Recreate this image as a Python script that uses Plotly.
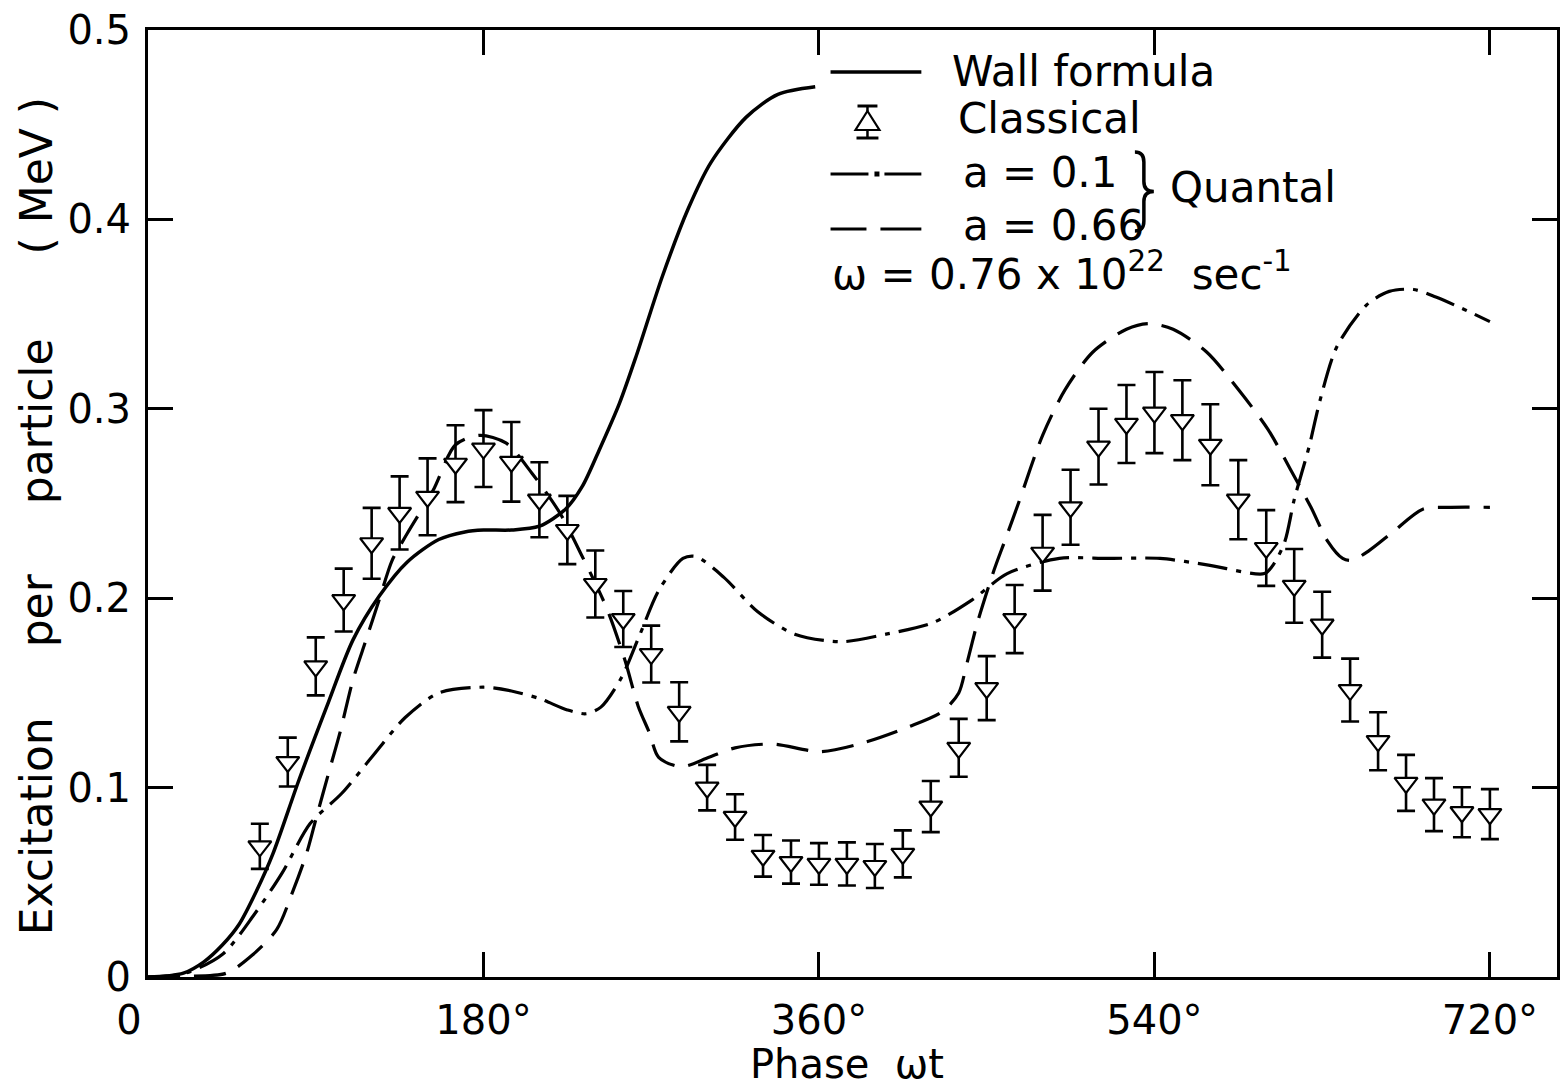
import plotly.graph_objects as go

# ---------------- data ----------------
wall_x = [0, 10, 19, 30, 40, 49, 58, 67, 81, 96, 110, 124, 139, 156, 170, 180, 195,
          210, 224, 233, 242, 253, 262, 276, 290, 302, 321, 338, 358]
wall_y = [0, 0.0005, 0.002, 0.008, 0.017, 0.028, 0.045, 0.065, 0.104, 0.143, 0.178,
          0.201, 0.219, 0.231, 0.235, 0.236, 0.236, 0.238, 0.247, 0.259, 0.278, 0.303,
          0.328, 0.370, 0.406, 0.430, 0.454, 0.466, 0.470]

q01_x = [0, 20, 40, 57, 72, 87, 104, 120, 138, 156, 180, 195, 210, 225, 235, 243, 254,
         264, 274, 287, 294, 309, 327, 347, 372, 396, 421, 442, 461, 489, 515, 543,
         569, 599, 604, 610, 615, 623, 629, 638, 654, 666, 679, 691, 705, 720]
q01_y = [0, 0.002, 0.012, 0.033, 0.055, 0.081, 0.097, 0.116, 0.137, 0.150, 0.153,
         0.151, 0.147, 0.141, 0.139, 0.1425, 0.158, 0.181, 0.204, 0.221, 0.222, 0.211,
         0.193, 0.181, 0.177, 0.181, 0.187, 0.199, 0.213, 0.221, 0.221, 0.221, 0.2175,
         0.213, 0.218, 0.230, 0.252, 0.280, 0.305, 0.333, 0.355, 0.362, 0.363, 0.359,
         0.353, 0.346]

q066_x = [0, 20, 42, 56, 69, 78, 85, 90, 97, 103, 110, 117, 124, 131, 139, 153, 165,
          178, 192, 206, 221, 233, 246, 256, 263, 269, 274, 286, 301, 315, 335, 361,
          385, 408, 426, 435, 439, 445, 454, 460, 467, 480, 492, 507, 525, 537, 550,
          568, 586, 601, 613, 624, 633, 641, 646, 655, 668, 684, 699, 720]
q066_y = [0, 0.0003, 0.002, 0.0116, 0.025, 0.046, 0.065, 0.083, 0.108, 0.129, 0.157,
          0.178, 0.199, 0.220, 0.234, 0.257, 0.281, 0.286, 0.282, 0.266, 0.245, 0.222,
          0.195, 0.167, 0.143, 0.129, 0.116, 0.111, 0.116, 0.121, 0.123, 0.119, 0.124,
          0.132, 0.140, 0.150, 0.164, 0.187, 0.215, 0.231, 0.250, 0.286, 0.310, 0.330,
          0.342, 0.345, 0.342, 0.330, 0.309, 0.289, 0.268, 0.248, 0.230, 0.221, 0.220,
          0.225, 0.235, 0.247, 0.248, 0.248]

cls_x = [60, 75, 90, 105, 120, 135, 150, 165, 180, 195, 210, 225, 240, 255, 270, 285,
         300, 315, 330, 345, 360, 375, 390, 405, 420, 435, 450, 465, 480, 495, 510, 525,
         540, 555, 570, 585, 600, 615, 630, 645, 660, 675, 690, 705, 720]
cls_y = [0.069, 0.1135, 0.164, 0.199, 0.229, 0.245, 0.2535, 0.271, 0.279, 0.272, 0.252,
         0.236, 0.2075, 0.189, 0.1705, 0.140, 0.100, 0.0845, 0.064, 0.0607, 0.0597,
         0.0597, 0.0586, 0.065, 0.090, 0.121, 0.1525, 0.189, 0.224, 0.248, 0.280, 0.292,
         0.298, 0.294, 0.281, 0.252, 0.2265, 0.2065, 0.186, 0.1515, 0.1245, 0.1025,
         0.091, 0.087, 0.086]
cls_err = [0.0119, 0.0129, 0.0153, 0.0166, 0.0187, 0.0193, 0.0203, 0.0203, 0.0203,
           0.021, 0.0198, 0.018, 0.0177, 0.0148, 0.015, 0.0156, 0.012, 0.012, 0.011,
           0.0114, 0.011, 0.0114, 0.0116, 0.0124, 0.0135, 0.0153, 0.0169, 0.018, 0.020,
           0.0198, 0.020, 0.0206, 0.0214, 0.0211, 0.0214, 0.0209, 0.020, 0.0195, 0.0174,
           0.0166, 0.0153, 0.0148, 0.014, 0.0132, 0.0132]

x_tickvals = [0, 180, 360, 540, 720]
x_ticktext = ["0\u00a0\u00a0\u00a0", "180°", "360°", "540°", "720°"]
y_tickvals = [0, 0.1, 0.2, 0.3, 0.4, 0.5]
y_ticktext = ["0", "0.1", "0.2", "0.3", "0.4", "0.5"]

FONT = "DejaVu Sans"
W, H = 1566, 1086
ML, MR, MT, MB = 148, 6, 30, 109
PW, PH = W - ML - MR, H - MT - MB


def px(x):
    return (x - ML) / PW


def py(y):
    return (H - MB - y) / PH


fig = go.Figure()

fig.add_trace(go.Scatter(x=wall_x, y=wall_y, mode="lines",
                         line=dict(color="black", width=3.5, shape="spline", smoothing=0.8),
                         name="Wall formula"))
fig.add_trace(go.Scatter(x=q01_x, y=q01_y, mode="lines",
                         line=dict(color="black", width=3.2, dash="30px,9px,5px,9px",
                                   shape="spline", smoothing=0.8),
                         name="a = 0.1"))
fig.add_trace(go.Scatter(x=q066_x, y=q066_y, mode="lines",
                         line=dict(color="black", width=3.2, dash="32px,14px",
                                   shape="spline", smoothing=0.8),
                         name="a = 0.66"))
fig.add_trace(go.Scatter(x=cls_x, y=cls_y, mode="markers",
                         marker=dict(symbol="triangle-down", size=20, color="white",
                                     line=dict(color="black", width=2.2)),
                         error_y=dict(type="data", array=cls_err, color="black",
                                      thickness=2.6, width=9),
                         name="Classical"))

axis_common = dict(showgrid=False, zeroline=False, showline=True, linecolor="black",
                   linewidth=3, mirror="ticks", ticks="inside", ticklen=25,
                   tickwidth=2.5, tickcolor="black",
                   tickfont=dict(family=FONT, size=40, color="black"))

fig.update_xaxes(range=[0, 756], tickvals=x_tickvals, ticktext=x_ticktext,
                 ticklabelstandoff=6, **axis_common)
fig.update_yaxes(range=[0, 0.5], tickvals=y_tickvals, ticktext=y_ticktext,
                 ticklabelstandoff=6, **axis_common)

nb = "\u00a0"
ann = []
# axis titles
ann.append(dict(text=f"Excitation{nb*5}per{nb*5}particle{nb*6}({nb}MeV{nb})",
                textangle=-90, x=px(36), y=py(516), xref="paper", yref="paper",
                xanchor="center", yanchor="middle", showarrow=False,
                font=dict(family=FONT, size=44, color="black")))
ann.append(dict(text=f"Phase{nb*2}ωt", x=px(848), y=py(1064), xref="paper",
                yref="paper", xanchor="center", yanchor="middle", showarrow=False,
                font=dict(family=FONT, size=40, color="black")))
# legend texts
lf = dict(family=FONT, size=42, color="black")
for txt, x, y in [("Wall formula", 952, 72), ("Classical", 958, 118),
                  ("a = 0.1", 963, 173), ("a = 0.66", 963, 225),
                  ("Quantal", 1170, 187)]:
    ann.append(dict(text=txt, x=px(x), y=py(y), xref="paper", yref="paper",
                    xanchor="left", yanchor="middle", showarrow=False, font=lf))
ann.append(dict(text="ω = 0.76 x 10<sup>22</sup>" + nb * 2 + "sec<sup>-1</sup>",
                x=px(831), y=py(272), xref="paper", yref="paper", xanchor="left",
                yanchor="middle", showarrow=False, font=lf))

shapes = []


def seg(x0, y0, x1, y1, w=3.5):
    shapes.append(dict(type="line", xref="paper", yref="paper", x0=px(x0), y0=py(y0),
                       x1=px(x1), y1=py(y1), line=dict(color="black", width=w)))


# legend samples
seg(832, 72, 923, 72)
seg(832, 174, 870, 174, 3.2)
seg(876, 174, 881, 174, 5)
seg(886, 174, 923, 174, 3.2)
seg(832, 229, 868, 229, 3.2)
seg(882, 229, 923, 229, 3.2)
# classical symbol
seg(859, 106, 879, 106, 3)
seg(869, 106, 869, 111, 2.5)
seg(869, 130, 869, 138, 2.5)
seg(858, 138, 880, 138, 3)
shapes.append(dict(type="path", xref="paper", yref="paper",
                   path=f"M {px(869)},{py(111)} L {px(881)},{py(130)} L {px(857)},{py(130)} Z",
                   line=dict(color="black", width=2.2), fillcolor="white"))
# brace
bx, by0, by1, tip = 1146, 152, 231, 1156
mid = (by0 + by1) / 2
bp = (f"M {px(bx-9)},{py(by0)} Q {px(bx)},{py(by0)} {px(bx)},{py(by0+10)} "
      f"L {px(bx)},{py(mid-10)} Q {px(bx)},{py(mid)} {px(tip)},{py(mid)} "
      f"Q {px(bx)},{py(mid)} {px(bx)},{py(mid+10)} "
      f"L {px(bx)},{py(by1-10)} Q {px(bx)},{py(by1)} {px(bx-9)},{py(by1)}")
shapes.append(dict(type="path", xref="paper", yref="paper", path=bp,
                   line=dict(color="black", width=3.5)))

fig.update_layout(width=W, height=H, margin=dict(l=ML, r=MR, t=MT, b=MB),
                  paper_bgcolor="white", plot_bgcolor="white", showlegend=False,
                  annotations=ann, shapes=shapes)

fig.write_html("out.html")
